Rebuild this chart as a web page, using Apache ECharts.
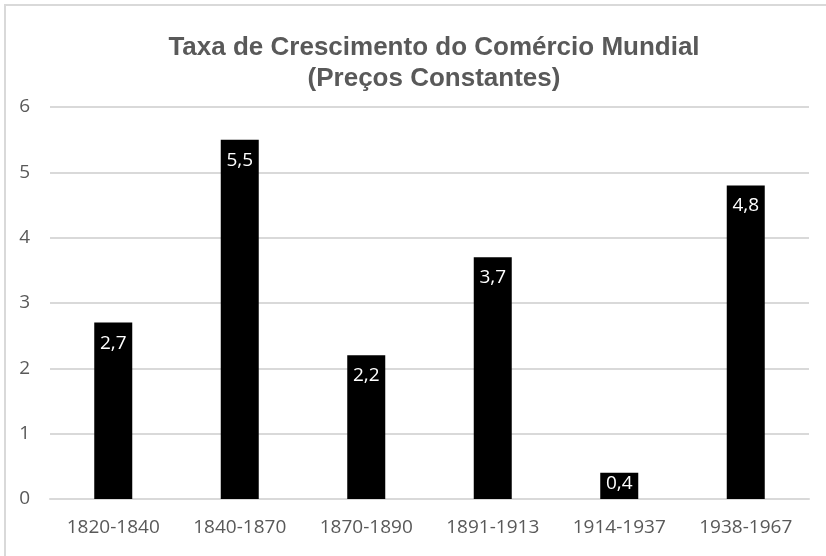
<!DOCTYPE html>
<html>
<head>
<meta charset="utf-8">
<script src="https://cdn.jsdelivr.net/npm/echarts@6/dist/echarts.min.js"></script>
<style>
    html, body { margin: 0; padding: 0; background: #fff; }
    #frame { position: absolute; left: 4px; top: 4px; width: 822px; height: 552px;
             border-top: 2px solid #d9d9d9; border-left: 2px solid #d9d9d9; box-sizing: border-box; }
    #chart { position: absolute; left: 0; top: 0; width: 826px; height: 556px; }
</style>
</head>
<body>
<div id="frame"></div>
<div id="chart"></div>
<script>
    // periodos e taxas (%)
    var periods = ['1820-1840', '1840-1870', '1870-1890', '1891-1913', '1914-1937', '1938-1967'];
    var growth = [2.7, 5.5, 2.2, 3.7, 0.4, 4.8];
    var yTicks = [0, 1, 2, 3, 4, 5, 6];

    var myChart = echarts.init(document.getElementById('chart'));

    // rotulo dentro do topo da barra; barras baixas ficam com o rotulo colado no topo
    var barData = growth.map(function (v) {
        return {
            value: v,
            label: { distance: v < 1 ? 1 : 11 }
        };
    });

    myChart.setOption({
        animation: false,
        title: {
            text: 'Taxa de Crescimento do Comércio Mundial\n(Preços Constantes)',
            left: 429,
            textAlign: 'center',
            top: 27,
            textStyle: {
                fontFamily: 'Liberation Sans',
                fontWeight: 'bold',
                fontSize: 26,
                lineHeight: 31,
                color: '#595959'
            }
        },
        grid: {
            left: 50,
            right: 17,
            top: 107,
            bottom: 57
        },
        xAxis: {
            type: 'category',
            data: periods,
            axisLine: { show: true, lineStyle: { color: '#d9d9d9', width: 2 } },
            axisTick: { show: false },
            axisLabel: {
                margin: 19,
                fontFamily: 'Open Sans',
                fontSize: 19,
                color: '#595959'
            }
        },
        yAxis: {
            type: 'value',
            min: yTicks[0],
            max: yTicks[yTicks.length - 1],
            interval: 1,
            axisLine: { show: false },
            axisTick: { show: false },
            splitLine: { lineStyle: { color: '#d9d9d9', width: 2 } },
            axisLabel: {
                margin: 20,
                fontFamily: 'Open Sans',
                fontSize: 19,
                color: '#595959'
            }
        },
        series: [
            {
                type: 'bar',
                data: barData,
                barWidth: 38,
                itemStyle: { color: '#000000' },
                label: {
                    show: true,
                    position: 'insideTop',
                    fontFamily: 'Open Sans',
                    fontSize: 19,
                    color: '#ffffff',
                    formatter: function (p) {
                        return String(p.value).replace('.', ',');
                    }
                }
            }
        ]
    });
</script>
</body>
</html>
